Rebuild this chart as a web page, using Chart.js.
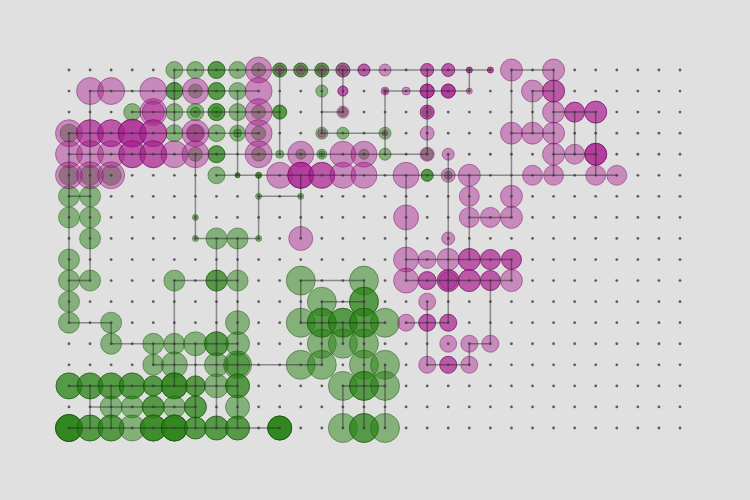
<!DOCTYPE html>
<html>
<head>
<meta charset="utf-8">
<script src="https://cdn.jsdelivr.net/npm/chart.js@4/dist/chart.umd.min.js"></script>
<style>
  html, body { margin: 0; padding: 0; background: #e0e0e0; }
  #wrap { width: 750px; height: 500px; }
</style>
</head>
<body>
<div id="wrap"><canvas id="chart" width="750" height="500"></canvas></div>
<script>
// grid nodes
const gridCols = [0,1,2,3,4,5,6,7,8,9,10,11,12,13,14,15,16,17,18,19,20,21,22,23,24,25,26,27,28,29];
const gridRows = [0,1,2,3,4,5,6,7,8,9,10,11,12,13,14,15,16,17];

// [col, row, radius, layers]
const pinkBubbles = [
  [9,0,13,1],[10,0,4.5,1],[11,0,4.5,1],[12,0,4.5,1],[13,0,7,1],[13,0,4.5,1],[14,0,6,2],[15,0,6,1],[17,0,6.5,2],[18,0,6.5,2],[19,0,3,2],[20,0,3,2],[21,0,11,1],[23,0,11,1],
  [1,1,13.5,1],[2,1,13.5,1],[4,1,13.5,1],[6,1,13,1],[9,1,13.5,1],[13,1,5,2],[15,1,4,1],[15,1,2.5,1],[16,1,4,1],[17,1,7,3],[18,1,7,3],[19,1,3,1],[22,1,11,1],[23,1,11,2],
  [4,2,13.5,1],[4,2,11,1],[9,2,13.5,1],[13,2,6,1],[17,2,7,2],[23,2,11,1],[24,2,10,2],[25,2,11,2],
  [0,3,13.5,1],[1,3,13.5,2],[2,3,13.5,2],[3,3,14,3],[4,3,13.5,2],[6,3,13.5,1],[6,3,9,1],[9,3,13.5,1],[12,3,4,1],[15,3,3,1],[17,3,7,1],[21,3,11,1],[22,3,11,1],[23,3,11,1],
  [0,4,13.5,1],[1,4,13.5,1],[2,4,13.5,1],[3,4,13.5,2],[4,4,13.5,2],[5,4,13.5,1],[6,4,13.5,1],[9,4,13.5,1],[11,4,13,1],[13,4,13,1],[14,4,13,1],[17,4,7,1],[18,4,6,1],[23,4,11,1],[24,4,10,1],[25,4,11,3],
  [0,5,13.5,1],[1,5,13.5,1],[2,5,13.5,1],[10,5,13,1],[11,5,13,3],[12,5,13,2],[13,5,13,1],[14,5,13,1],[16,5,13,1],[18,5,7,1],[19,5,11,1],[22,5,10,1],[23,5,10,1],[25,5,10,1],[26,5,10,1],
  [19,6,10,1],[21,6,11,1],
  [16,7,12.5,1],[19,7,10,1],[20,7,10,1],[21,7,11,1],
  [11,8,12,1],[18,8,6.5,1],
  [16,9,12.5,1],[17,9,9,1],[18,9,11,1],[19,9,11,2],[20,9,10,2],[21,9,10,2],
  [16,10,12.5,1],[17,10,9,2],[18,10,11,2],[18,10,9,1],[19,10,11,2],[20,10,10,2],[21,10,11,1],
  [17,11,8.5,1],
  [16,12,8.5,1],[17,12,8.5,2],[18,12,8.5,2],
  [18,13,8.5,1],[19,13,8.5,1],[20,13,8.5,1],
  [17,14,8.5,1],[18,14,8.5,2],[19,14,8.5,1]
];

const greenBubbles = [
  [5,0,8.5,1],[6,0,8.5,1],[7,0,8.5,2],[8,0,8.5,1],[9,0,7,1],[10,0,7,2],[11,0,7,2],[12,0,7,2],[13,0,7,1],
  [5,1,8.5,2],[6,1,7,1],[7,1,8.5,2],[8,1,8.5,1],[12,1,6,1],
  [3,2,8.5,1],[5,2,8.5,1],[6,2,8.5,1],[6,2,5,1],[7,2,8.5,2],[7,2,5,1],[8,2,8.5,1],[9,2,7,1],[10,2,7,2],[13,2,4.5,1],[17,2,5,1],
  [0,3,9,1],[5,3,8.5,1],[6,3,8,1],[7,3,8.5,1],[8,3,8,1],[8,3,4,1],[9,3,7,1],[12,3,6,1],[13,3,6,1],[15,3,6,1],
  [6,4,7,1],[7,4,8.5,2],[9,4,7,1],[10,4,4,1],[11,4,5,1],[12,4,5,1],[12,4,3,1],[14,4,5,1],[15,4,6,1],[17,4,6,1],
  [0,5,10,1],[1,5,10,1],[2,5,10,1],[7,5,8.5,1],[8,5,2.5,2],[9,5,3,2],[17,5,6,2],[18,5,4,1],
  [0,6,10.5,1],[1,6,10.5,1],[9,6,3,1],[11,6,3,1],
  [0,7,10.5,1],[1,7,10.5,1],[6,7,3,1],
  [1,8,10.5,1],[6,8,3,1],[7,8,10.5,1],[8,8,10.5,1],[9,8,3,1],
  [0,9,10.5,1],
  [0,10,10.5,1],[1,10,10.5,1],[5,10,10.5,1],[7,10,10.5,2],[8,10,10.5,1],[11,10,14.5,1],[14,10,14.5,1],
  [0,11,10.5,1],[12,11,14.5,1],[14,11,14.5,2],
  [0,12,10.5,1],[2,12,10.5,1],[8,12,12,1],[11,12,14.5,1],[12,12,14.5,2],[13,12,14.5,2],[14,12,14.5,2],[15,12,14.5,1],
  [2,13,10.5,1],[4,13,10.5,1],[5,13,10.5,1],[6,13,12,1],[7,13,12,2],[8,13,12,1],[12,13,14.5,1],[13,13,14.5,1],[14,13,14.5,1],
  [4,14,10.5,1],[5,14,13,1],[7,14,12,1],[8,14,14,1],[8,14,12,1],[11,14,14.5,1],[12,14,14.5,1],[14,14,14.5,1],[15,14,14.5,1],
  [0,15,13,2],[1,15,13,2],[2,15,13,2],[3,15,13,2],[4,15,10,2],[5,15,13,3],[6,15,10,2],[7,15,12,1],[8,15,12,2],[13,15,14.5,1],[14,15,14.5,2],[15,15,14.5,1],
  [2,16,11,1],[3,16,11,1],[4,16,11,2],[5,16,11,1],[6,16,11,2],[8,16,12,1],
  [0,17,13.5,4],[1,17,13,2],[2,17,13,2],[3,17,13,1],[4,17,13,3],[5,17,13,4],[6,17,11,2],[7,17,12,2],[8,17,12,2],[10,17,12,4],[13,17,14.5,1],[14,17,14.5,2],[15,17,14.5,1]
];

// [col1, row1, col2, row2]
const links = [
  [5,0,20,0],[21,0,23,0],
  [1,1,9,1],[15,1,19,1],[22,1,23,1],
  [3,2,10,2],[12,2,13,2],[23,2,25,2],
  [0,3,9,3],[12,3,15,3],[21,3,23,3],
  [0,4,17,4],[23,4,25,4],
  [7,5,26,5],
  [0,6,1,6],[9,6,11,6],
  [19,7,21,7],
  [6,8,9,8],
  [16,9,21,9],
  [0,10,1,10],[5,10,8,10],[11,10,14,10],[16,10,21,10],
  [12,11,14,11],
  [0,12,2,12],[11,12,15,12],[16,12,18,12],
  [2,13,8,13],[19,13,20,13],
  [4,14,12,14],[17,14,19,14],
  [0,15,8,15],[13,15,15,15],
  [1,16,6,16],
  [0,17,10,17],
  [5,0,5,3],[8,1,8,5],[10,0,10,4],[12,0,12,3],[13,0,13,2],[17,0,17,4],[19,0,19,1],[21,0,21,7],[23,0,23,5],
  [1,1,1,10],[15,1,15,4],[22,1,22,3],[24,2,24,4],[25,2,25,5],
  [0,3,0,12],[6,4,6,8],[18,4,18,12],
  [9,5,9,8],[11,5,11,8],[16,5,16,10],[19,5,19,9],
  [7,8,7,17],[8,8,8,17],
  [5,10,5,15],[11,10,11,12],[14,10,14,17],[21,9,21,10],[20,10,20,13],
  [12,11,12,14],[17,11,17,14],
  [2,12,2,13],[13,12,13,13],
  [4,13,4,14],[6,13,6,17],
  [19,13,19,14],
  [15,14,15,17],[13,15,13,17],
  [1,15,1,17],[2,15,2,17]
];

const expand = list => list.flatMap(([c, r, size, n]) =>
  Array.from({ length: n }, () => ({ x: c, y: r, r: size })));

const dots = gridRows.flatMap(r => gridCols.map(c => ({ x: c, y: r })));
const linkPoints = links.flatMap(([c1, r1, c2, r2]) =>
  [{ x: c1, y: r1 }, { x: c2, y: r2 }, { x: null, y: null }]);

new Chart(document.getElementById('chart').getContext('2d'), {
  type: 'bubble',
  data: {
    datasets: [
      {
        type: 'scatter',
        data: dots,
        pointRadius: 1.4,
        pointBackgroundColor: 'rgba(60,60,60,0.8)',
        pointBorderWidth: 0,
        order: 0,
        clip: false
      },
      {
        type: 'line',
        data: linkPoints,
        borderColor: 'rgba(30,30,30,0.45)',
        borderWidth: 1.5,
        pointRadius: 0,
        spanGaps: false,
        fill: false,
        order: 1,
        clip: false
      },
      {
        data: expand(pinkBubbles),
        backgroundColor: 'rgba(170,30,145,0.45)',
        borderColor: 'rgba(110,20,95,0.45)',
        borderWidth: 1,
        order: 2,
        clip: false
      },
      {
        data: expand(greenBubbles),
        backgroundColor: 'rgba(40,130,20,0.5)',
        borderColor: 'rgba(25,80,10,0.45)',
        borderWidth: 1,
        order: 3,
        clip: false
      }
    ]
  },
  options: {
    responsive: false,
    animation: false,
    layout: { padding: { left: 69, right: 70, top: 70, bottom: 72 } },
    plugins: { legend: { display: false }, tooltip: { enabled: false } },
    scales: {
      x: { type: 'linear', min: 0, max: 29, display: false },
      y: { type: 'linear', min: 0, max: 17, reverse: true, display: false }
    }
  }
});
</script>
</body>
</html>
